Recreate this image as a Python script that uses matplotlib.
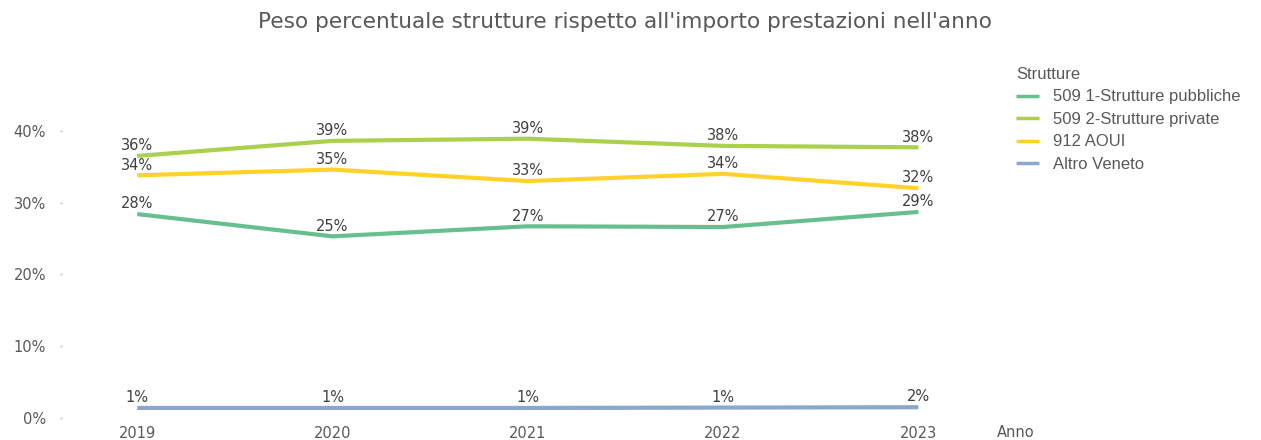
import matplotlib
matplotlib.use("Agg")
import matplotlib.pyplot as plt

# data (percent)
years = [2019, 2020, 2021, 2022, 2023]
series_names = ["509 1-Strutture pubbliche", "509 2-Strutture private", "912 AOUI", "Altro Veneto"]
pubbliche = [28.4, 25.3, 26.7, 26.6, 28.7]
private = [36.5, 38.6, 38.9, 37.9, 37.7]
aoui = [33.8, 34.6, 33.0, 34.0, 32.0]
altro = [1.4, 1.4, 1.4, 1.45, 1.5]
y_ticks = [0, 10, 20, 30, 40]

colors = ["#66C08E", "#A9D14B", "#FFD22A", "#8BA8CA"]
text_grey = "#595959"

fig = plt.figure(figsize=(12.61, 4.4), dpi=100)
ax = fig.add_axes([62 / 1261, 22 / 440, (975 - 62) / 1261, 359 / 440])

for vals, name, col in zip([pubbliche, private, aoui, altro], series_names, colors):
    ax.plot(years, vals, color=col, linewidth=3, label=name, solid_capstyle="butt")
    for x, v in zip(years, vals):
        ax.annotate(f"{v:.0f}%", (x, v), xytext=(0, 2), textcoords="offset points",
                    ha="center", va="bottom", fontsize=10.5, color="#404040")

ax.set_xlim(2018.615, 2023.29)
ax.set_ylim(0, 50)
ax.set_xticks(years)
ax.set_xticklabels([str(y) for y in years])
ax.set_yticks(y_ticks)
ax.set_yticklabels([f"{t}%" for t in y_ticks])
ax.tick_params(axis="both", colors=text_grey, labelsize=10.5)
ax.tick_params(axis="x", length=0, pad=6)
ax.tick_params(axis="y", length=1.5, width=1, color="#BBBBBB", pad=10)
for s in ax.spines.values():
    s.set_visible(False)

fig.text(997 / 1261, 1 - 432 / 440, "Anno", fontsize=10.5, color=text_grey, ha="left", va="center")
fig.text(625 / 1261, 1 - 22 / 440, "Peso percentuale strutture rispetto all'importo prestazioni nell'anno",
         fontsize=15.6, color=text_grey, ha="center", va="center")

leg = fig.legend(loc="upper left", bbox_to_anchor=(1001 / 1261, 1 - 52 / 440), frameon=False,
                 title="Strutture", prop={"family": "Liberation Sans", "size": 12},
                 handlelength=1.4, handletextpad=0.8, labelspacing=0.45, alignment="left")
leg.get_title().set_fontfamily("Liberation Sans")
leg.get_title().set_fontsize(12)
leg.get_title().set_color(text_grey)
for t in leg.get_texts():
    t.set_color(text_grey)
for h in leg.legend_handles:
    h.set_linewidth(2.5)

fig.savefig("out.png", dpi=100)
